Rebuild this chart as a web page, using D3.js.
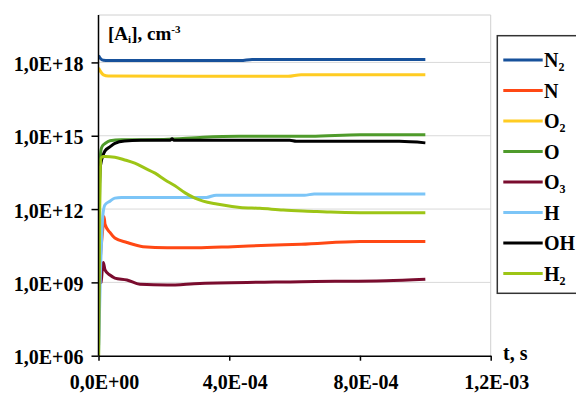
<!DOCTYPE html>
<html>
<head>
<meta charset="utf-8">
<script src="https://cdn.jsdelivr.net/npm/d3@7"></script>
<style>
  body { margin: 0; background: #fff; }
  text { font-family: "Liberation Serif", "Times New Roman", serif; font-weight: bold; }
</style>
</head>
<body>
<svg id="viz" width="576" height="394"></svg>
<script>
// time (s), concentration (cm-3)
var n2  = [[0,1.9e18],[5e-6,1.5e18],[1.5e-5,1.22e18],[3e-5,1.19e18],[4.35e-4,1.19e18],[4.7e-4,1.33e18],[1e-3,1.33e18]]
var n   = [[0,1e9],[1.3e-5,1.5e11],[1.7e-5,4.9e11],[2e-5,2.4e11],[3.5e-5,1.1e11],[5e-5,6.5e10],[8.7e-5,4.3e10],[1.36e-4,2.9e10],[2.1e-4,2.6e10],[3e-4,2.6e10],[4.1e-4,2.9e10],[5.2e-4,3.3e10],[6.2e-4,3.6e10],[8e-4,4.7e10],[1e-3,4.7e10]]
var o2  = [[0,6e17],[5e-6,4.5e17],[1.5e-5,3.1e17],[3e-5,2.75e17],[5.8e-4,2.7e17],[6.2e-4,3.15e17],[1e-3,3.15e17]]
var o   = [[0,1e6],[3e-6,1e12],[5e-6,1e14],[8e-6,2.8e14],[1.3e-5,4e14],[2e-5,4.8e14],[3.5e-5,6.2e14],[7e-5,6.8e14],[2e-4,7e14],[3.2e-4,8.7e14],[4.3e-4,9.5e14],[6.5e-4,9.6e14],[8e-4,1.1e15],[1e-3,1.1e15]]
var o3  = [[0,9e8],[8e-6,1e9],[1.2e-5,4e9],[1.47e-5,6.5e9],[2e-5,3.2e9],[3.5e-5,2e9],[5e-5,1.5e9],[8.7e-5,1.26e9],[1.27e-4,8.3e8],[2.1e-4,7.8e8],[3.1e-4,9.1e8],[6.2e-4,1.07e9],[8.8e-4,1.17e9],[1e-3,1.35e9]]
var h   = [[0,1e6],[6e-6,3e9],[9.8e-6,7.4e10],[1.4e-5,6.9e11],[2e-5,1.5e12],[3.5e-5,2.1e12],[5e-5,2.8e12],[7e-5,3e12],[3.3e-4,3e12],[3.6e-4,3.7e12],[6.3e-4,3.7e12],[6.6e-4,4.1e12],[1e-3,4.1e12]]
var oh  = [[0,1e6],[2e-6,1e12],[4.6e-6,4e13],[7.7e-6,7.8e13],[1.4e-5,1.6e14],[2e-5,2.4e14],[3.5e-5,3.5e14],[5e-5,4.9e14],[8e-5,6.1e14],[1.3e-4,6.5e14],[2.2e-4,6.6e14],[2.25e-4,7.6e14],[2.3e-4,6.6e14],[5.85e-4,6.5e14],[6.05e-4,5.9e14],[9.2e-4,5.9e14],[1e-3,5.1e14]]
var h2  = [[0,1e5],[4e-6,3e12],[7.7e-6,1.2e14],[1.4e-5,1.4e14],[2e-5,1.4e14],[5e-5,1.32e14],[8.1e-5,1.02e14],[1.11e-4,7.5e13],[1.42e-4,4.7e13],[1.73e-4,2.95e13],[2.04e-4,1.55e13],[2.34e-4,9e12],[2.65e-4,4.6e12],[2.95e-4,2.8e12],[3.2e-4,2.1e12],[3.62e-4,1.6e12],[4.33e-4,1.17e12],[4.94e-4,1.07e12],[5.65e-4,9.1e11],[6.68e-4,8e11],[7.1e-4,7.5e11],[8e-4,7.1e11],[1e-3,7.1e11]]

var names  = [["N", "2"], ["N", ""], ["O", "2"], ["O", ""], ["O", "3"], ["H", ""], ["OH", ""], ["H", "2"]]
var colors = ["#17519b", "#ff4814", "#ffcc22", "#4f9b2b", "#7a0c2e", "#7cc5f7", "#000000", "#9dc516"]
var seriesData = [n2, n, o2, o, o3, h, oh, h2]

var xTicks = [0, 4e-4, 8e-4, 1.2e-3]
var xTickLabels = ["0,0E+00", "4,0E-04", "8,0E-04", "1,2E-03"]
var yTicks = [1e6, 1e9, 1e12, 1e15, 1e18]
var yTickLabels = ["1,0E+06", "1,0E+09", "1,0E+12", "1,0E+15", "1,0E+18"]

let pLeft = 98.5, pRight = 490.7, pTop = 15, pBottom = 355.7
let viz = d3.select("#viz")

let x = d3.scaleLinear().domain([0, 1.2e-3]).range([pLeft, pRight])
let y = d3.scaleLog().domain([1e6, Math.pow(10, 19.94)]).range([pBottom, pTop])

viz.append("defs").append("clipPath").attr("id", "plot")
    .append("rect").attr("x", pLeft).attr("y", pTop).attr("width", pRight - pLeft).attr("height", pBottom - pTop)

// grid + plot border
viz.append("g").selectAll("line").data(yTicks.slice(1)).enter().append("line")
    .attr("x1", pLeft).attr("x2", pRight)
    .attr("y1", d => y(d)).attr("y2", d => y(d))
    .style("stroke", "#d9d9d9").style("stroke-width", 1)
viz.append("path")
    .attr("d", `M${pLeft},${pTop}H${pRight}V${pBottom}`)
    .style("fill", "none").style("stroke", "#d0d0d0").style("stroke-width", 1)

// series
let line = d3.line().x(d => x(d[0])).y(d => y(d[1])).curve(d3.curveMonotoneX)
viz.append("g").attr("clip-path", "url(#plot)")
    .selectAll("path").data(seriesData).enter().append("path")
    .attr("d", line)
    .style("fill", "none")
    .style("stroke", (d, i) => colors[i])
    .style("stroke-width", 3)
    .style("stroke-linejoin", "round")

// axes
let yAxis = viz.append("g").attr("transform", `translate(${pLeft},0)`)
    .call(d3.axisLeft(y).tickValues(yTicks).tickFormat((d, i) => yTickLabels[i]).tickSize(7).tickPadding(8))
let xAxis = viz.append("g").attr("transform", `translate(0,${pBottom})`)
    .call(d3.axisBottom(x).tickValues(xTicks).tickFormat((d, i) => xTickLabels[i]).tickSize(5).tickSizeOuter(0))

yAxis.select(".domain").attr("d", `M0,${pTop}V${pBottom}`)
;[yAxis, xAxis].forEach(a => {
    a.selectAll(".domain, line").style("stroke", "#000").style("stroke-width", 1.5)
    a.selectAll("text").style("font-size", "20px").style("font-family", "Liberation Serif").style("font-weight", "bold").style("fill", "#000")
})
yAxis.selectAll("text").attr("dy", "0.4em")
xAxis.selectAll("text").attr("y", 389 - pBottom).attr("dy", null).attr("dx", 5.5)

// axis titles
let title = viz.append("text").attr("x", 108).attr("y", 40).style("font-size", "19px")
title.append("tspan").text("[A")
title.append("tspan").text("i").style("font-size", "11px").attr("dy", 3)
title.append("tspan").text("], cm").attr("dy", -3)
title.append("tspan").text("-3").style("font-size", "11px").attr("dy", -7)

viz.append("text").attr("x", 503).attr("y", 360).style("font-size", "20px").text("t, s")

// legend
let lg = viz.append("g")
lg.append("rect").attr("x", 497.3).attr("y", 35.7).attr("width", 110).attr("height", 257.6)
    .style("fill", "#fff").style("stroke", "#333").style("stroke-width", 1.5)
let item = lg.selectAll("g.item").data(names).enter().append("g").attr("class", "item")
    .attr("transform", (d, i) => `translate(0,${60 + i * 30.5})`)
item.append("line").attr("x1", 503.3).attr("x2", 542.7)
    .style("stroke", (d, i) => colors[i]).style("stroke-width", 3)
let lt = item.append("text").attr("x", 544).attr("y", 7).style("font-size", "20px")
lt.append("tspan").text(d => d[0])
lt.append("tspan").text(d => d[1]).style("font-size", "12px").attr("dy", 4)
</script>
</body>
</html>
